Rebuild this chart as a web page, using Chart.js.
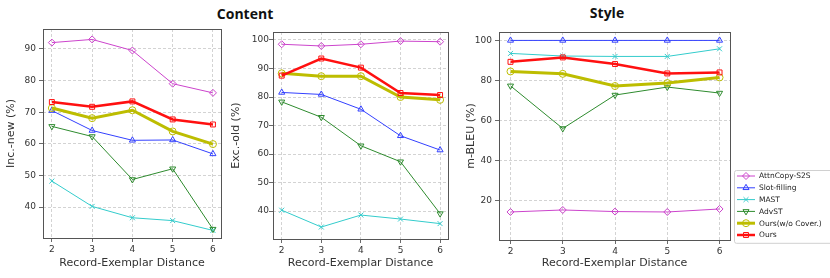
<!DOCTYPE html>
<html>
<head>
<meta charset="utf-8">
<script src="https://cdn.jsdelivr.net/npm/chart.js"></script>
<style>
html, body { margin: 0; padding: 0; background: #fff; }
#fig { position: relative; width: 830px; height: 278px; overflow: hidden; }
#fig canvas { position: absolute; top: 0; }
.ttl { position: absolute; font: bold 14px 'Open Sans', sans-serif; color: #111; transform: translate(-50%, -50%); white-space: nowrap; }
</style>
</head>
<body>
<div id="fig">
    <div class="ttl" style="left:245px; top:13px;">Content</div>
    <div class="ttl" style="left:607px; top:12px;">Style</div>
    <canvas id="incNew" width="226" height="278" style="left:0px;"></canvas>
    <canvas id="excOld" width="226" height="278" style="left:228px;"></canvas>
    <canvas id="mBleu" width="374" height="278" style="left:456px;"></canvas>
</div>
<script>
// data
const distances = [2, 3, 4, 5, 6];
const methods = ['AttnCopy-S2S', 'Slot-filling', 'MAST', 'AdvST', 'Ours(w/o Cover.)', 'Ours'];

// Inc.-new (%)
const attnIncNew = [92.0, 93.0, 89.5, 79.0, 76.1];
const slotIncNew = [70.5, 64.2, 61.1, 61.2, 56.8];
const mastIncNew = [48.2, 40.2, 36.6, 35.7, 32.6];
const advIncNew = [65.5, 62.3, 48.7, 52.1, 33.0];
const oursNoCovIncNew = [71.3, 68.1, 70.6, 63.9, 59.9];
const oursIncNew = [73.2, 71.7, 73.4, 67.7, 66.1];

// Exc.-old (%)
const attnExcOld = [98.5, 97.9, 98.5, 99.6, 99.4];
const slotExcOld = [81.6, 80.9, 75.7, 66.4, 61.4];
const mastExcOld = [40.3, 34.4, 38.6, 37.2, 35.6];
const advExcOld = [78.3, 72.9, 62.9, 57.3, 39.1];
const oursNoCovExcOld = [88.3, 87.3, 87.3, 80.0, 79.0];
const oursExcOld = [87.5, 93.5, 90.3, 81.4, 80.7];

// m-BLEU (%)
const attnBleu = [14.3, 15.3, 14.5, 14.3, 15.8];
const slotBleu = [100, 100, 100, 100, 100];
const mastBleu = [93.5, 92.2, 92.0, 92.0, 95.8];
const advBleu = [77.3, 56.0, 72.7, 76.7, 73.7];
const oursNoCovBleu = [84.5, 83.3, 77.2, 78.7, 81.5];
const oursBleu = [89.3, 91.5, 88.2, 83.5, 84.0];

// styles
const colors = ['#cc44cc', '#3340ff', '#33cccc', '#2e8b2e', '#bdbd00', '#ff1010'];
const lineWidths = [1, 1, 1, 1, 3, 2.5];
const markers = ['rectRot', 'triangle', 'crossRot', 'triangle', 'circle', 'rect'];
const rotations = [0, 0, 0, 180, 0, 0];
const FONT = "'DejaVu Sans', sans-serif";

const boxPlugin = {
    id: 'box',
    afterDatasetsDraw(chart) {
        const a = chart.chartArea, ctx = chart.ctx;
        ctx.save();
        ctx.strokeStyle = '#555';
        ctx.lineWidth = 1;
        ctx.strokeRect(Math.round(a.left) + 0.5, Math.round(a.top) + 0.5,
            Math.round(a.right - a.left), Math.round(a.bottom - a.top));
        ctx.restore();
    }
};

const legendPlugin = {
    id: 'sideLegend',
    afterDraw(chart) {
        const ctx = chart.ctx;
        const x0 = chart.chartArea.right + 4, y0 = 170, w = 100, rowH = 11.8;
        const h = rowH * chart.data.datasets.length + 2;
        ctx.save();
        ctx.fillStyle = '#fff';
        ctx.strokeStyle = '#d0d0d0';
        ctx.lineWidth = 1;
        ctx.beginPath();
        ctx.roundRect(x0 + 0.5, y0 + 0.5, w, h, 2);
        ctx.fill();
        ctx.stroke();
        chart.data.datasets.forEach((ds, i) => {
            const y = y0 + 6 + i * rowH;
            ctx.strokeStyle = ds.borderColor;
            ctx.lineWidth = ds.borderWidth;
            ctx.beginPath();
            ctx.moveTo(x0 + 3, y);
            ctx.lineTo(x0 + 21, y);
            ctx.stroke();
            ctx.lineWidth = 1;
            ctx.fillStyle = 'rgba(255,255,255,0)';
            Chart.helpers.drawPoint(ctx, {
                pointStyle: ds.pointStyle, rotation: ds.pointRotation,
                radius: ds.pointRadius, borderWidth: 1
            }, x0 + 12, y);
            ctx.fillStyle = '#222';
            ctx.font = '7.5px ' + FONT;
            ctx.textBaseline = 'middle';
            ctx.fillText(ds.label, x0 + 25, y + 0.5);
        });
        ctx.restore();
    }
};

function makeDatasets(series) {
    return methods.map((m, i) => ({
        label: m,
        data: distances.map((d, j) => ({ x: d, y: series[i][j] })),
        borderColor: colors[i],
        backgroundColor: colors[i],
        borderWidth: lineWidths[i],
        pointStyle: markers[i],
        pointRotation: rotations[i],
        pointRadius: 3.5,
        pointBorderWidth: 1,
        pointBorderColor: colors[i],
        pointBackgroundColor: 'rgba(255,255,255,0)',
        tension: 0,
        fill: false,
        order: methods.length - i
    }));
}

function makeChart(id, series, o) {
    return new Chart(document.getElementById(id), {
        type: 'line',
        data: { datasets: makeDatasets(series) },
        plugins: o.legend ? [boxPlugin, legendPlugin] : [boxPlugin],
        options: {
            responsive: false,
            animation: false,
            layout: { autoPadding: false, padding: { left: 0, top: o.top, right: o.right, bottom: 0 } },
            plugins: { legend: { display: false }, tooltip: { enabled: false } },
            scales: {
                x: {
                    type: 'linear', min: 1.78, max: 6.2,
                    ticks: { stepSize: 1, includeBounds: false, color: '#333', padding: 2, font: { family: FONT, size: 9 } },
                    grid: { color: '#c8c8c8', lineWidth: 0.8, tickColor: '#444', tickLength: 4 },
                    border: { display: false, dash: [3, 2] },
                    title: { display: true, text: 'Record-Exemplar Distance', color: '#333', font: { family: FONT, size: 11 }, padding: { top: 0, bottom: 8 } },
                    afterFit: s => { s.height = o.xH; }
                },
                y: {
                    min: o.min, max: o.max,
                    ticks: { stepSize: o.step, includeBounds: false, color: '#333', padding: o.tickPad, font: { family: FONT, size: 9 } },
                    grid: { color: '#c8c8c8', lineWidth: 0.8, tickColor: '#444', tickLength: 4 },
                    border: { display: false, dash: [3, 2] },
                    title: { display: true, text: o.title, color: '#333', font: { family: FONT, size: 11 }, padding: { top: o.titlePad, bottom: 0 } },
                    afterFit: s => { s.width = o.yW; }
                }
            }
        }
    });
}

makeChart('incNew',
    [attnIncNew, slotIncNew, mastIncNew, advIncNew, oursNoCovIncNew, oursIncNew],
    { min: 30.2, max: 96.3, step: 10, title: 'Inc.-new (%)', yW: 43, xH: 40, top: 29, right: 5, tickPad: 3, titlePad: 5 });

makeChart('excOld',
    [attnExcOld, slotExcOld, mastExcOld, advExcOld, oursNoCovExcOld, oursExcOld],
    { min: 30.2, max: 102.8, step: 10, title: 'Exc.-old (%)', yW: 45, xH: 39, top: 32, right: 6, tickPad: 0, titlePad: 2 });

makeChart('mBleu',
    [attnBleu, slotBleu, mastBleu, advBleu, oursNoCovBleu, oursBleu],
    { min: 0.3, max: 104.2, step: 20, title: 'm-BLEU (%)', yW: 43, xH: 38, top: 32, right: 100, tickPad: 3, titlePad: 9, legend: true });
</script>
</body>
</html>
